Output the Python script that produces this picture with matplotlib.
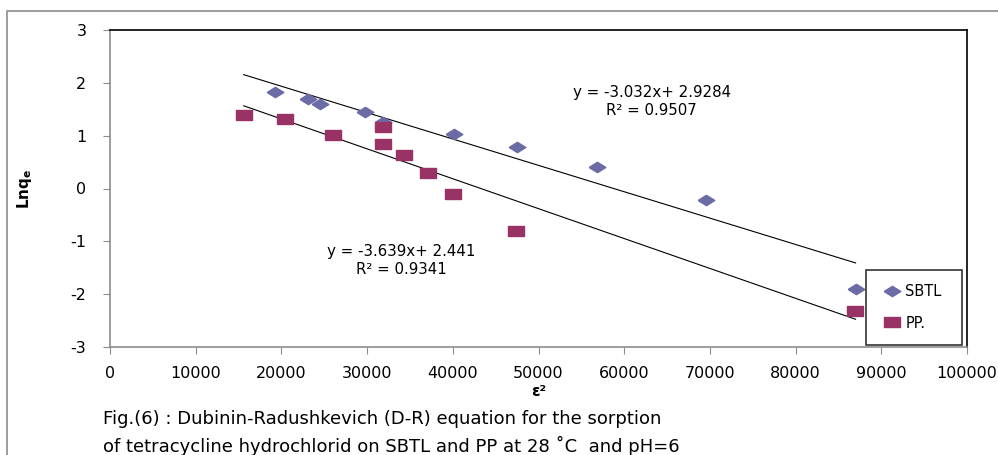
import numpy as np
import matplotlib
matplotlib.use("Agg")
import matplotlib.pyplot as plt
from matplotlib.patches import Rectangle

# values (x = eps^2, y = ln qe)
sbtl_x = [19250, 23100, 24500, 29750, 31900, 40150, 47500, 56800, 69500, 87000]
sbtl_y = [1.82, 1.70, 1.59, 1.44, 1.25, 1.04, 0.78, 0.40, -0.21, -1.91]
pp_x = [15600, 20400, 26000, 31900, 31900, 34300, 37100, 40000, 47400, 86900]
pp_y = [1.40, 1.31, 1.02, 1.16, 0.85, 0.63, 0.30, -0.10, -0.80, -2.31]

sbtl_eq = "y = -3.032x+ 2.9284\nR\u00b2 = 0.9507"
pp_eq = "y = -3.639x+ 2.441\nR\u00b2 = 0.9341"
caption = ("Fig.(6) : Dubinin-Radushkevich (D-R) equation for the sorption\n"
           "of tetracycline hydrochlorid on SBTL and PP at 28 \u02daC  and pH=6")

plt.rcParams['font.family'] = ['DejaVu Sans']
plt.rcParams['axes.unicode_minus'] = False

fig = plt.figure(figsize=(9.98, 4.55), dpi=100)
ax = fig.add_axes([110 / 998, 1 - 347 / 455, 857 / 998, 317 / 455])

# outer chart frame (cropped on right and bottom)
fig.patches.append(Rectangle((7 / 998, -0.5), 2, 0.5 + 1 - 11 / 455,
                             transform=fig.transFigure, fill=False,
                             edgecolor="#8c8c8c", lw=1.2))

diamond = [(-1, 0), (0, 0.62), (1, 0), (0, -0.62), (-1, 0)]
square = [(-1, -0.6), (1, -0.6), (1, 0.6), (-1, 0.6), (-1, -0.6)]

ax.plot(sbtl_x, sbtl_y, ls="none", marker=diamond, ms=12,
        color="#6b6ba5", mec="#6b6ba5", label="SBTL", zorder=3)
ax.plot(pp_x, pp_y, ls="none", marker=square, ms=11.5,
        color="#993366", mec="#993366", label="PP.", zorder=4)

# linear trendlines over the full data range
x_all = np.array(sbtl_x + pp_x)
xs = np.array([x_all.min(), x_all.max()])
for xd, yd in [(sbtl_x, sbtl_y), (pp_x, pp_y)]:
    k, b = np.polyfit(xd, yd, 1)
    ax.plot(xs, k * xs + b, color="black", lw=0.8, zorder=2)

ax.text(63200, 1.65, sbtl_eq, ha="center", va="center", fontsize=10.8,
        linespacing=1.25)
ax.text(34000, -1.36, pp_eq, ha="center", va="center", fontsize=10.8,
        linespacing=1.25)

ax.set_xlim(0, 100000)
ax.set_ylim(-3, 3)
ax.set_xticks(np.arange(0, 100001, 10000))
ax.set_yticks(np.arange(-3, 4, 1))
ax.tick_params(axis="both", labelsize=11.5, direction="out", length=5,
               color="#8c8c8c")
ax.tick_params(axis="y", pad=12)
ax.tick_params(axis="x", pad=9)

for s in ["left", "bottom"]:
    ax.spines[s].set_color("#8c8c8c")
    ax.spines[s].set_linewidth(1.2)
for s in ["top", "right"]:
    ax.spines[s].set_color("black")
    ax.spines[s].set_linewidth(1.2)

ax.set_xlabel("\u03b5\u00b2", fontsize=11, fontweight="bold", labelpad=2)
ax.set_ylabel("Lnq$_\\mathbf{e}$", fontsize=11, fontweight="bold")
ax.yaxis.set_label_coords(-(110 - 34) / 857, 0.5)

leg = ax.legend(loc="lower left", bbox_to_anchor=(0.882, 0.006, 0.112, 0.196),
                mode="expand", borderaxespad=0, fontsize=10.5, frameon=True,
                fancybox=False, handletextpad=0.1, labelspacing=1.1,
                borderpad=1.0, handlelength=1.6)
leg.get_frame().set_edgecolor("black")
leg.get_frame().set_linewidth(1.2)

fig.text(103 / 998, 1 - 433 / 455, caption, fontsize=13, ha="left",
         va="center", linespacing=1.55)

fig.savefig("out.png", dpi=100)
